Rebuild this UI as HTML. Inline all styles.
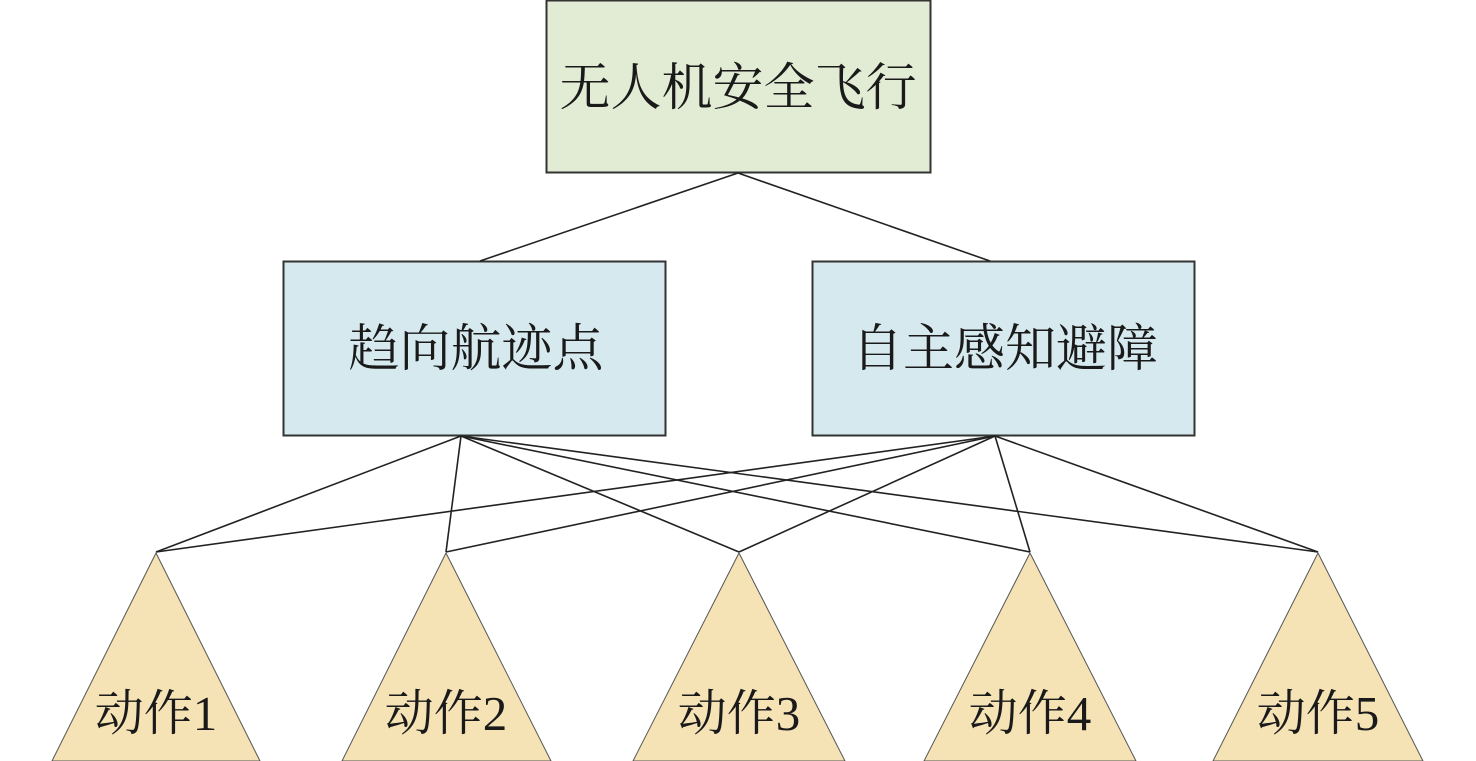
<!DOCTYPE html>
<html><head><meta charset="utf-8"><style>
body{margin:0;background:#fff;}
svg{display:block;}
text{font-family:"Liberation Serif","Noto Serif CJK SC",serif;fill:#1a1a1a;}
</style></head><body>
<svg width="1476" height="761" viewBox="0 0 1476 761" xmlns="http://www.w3.org/2000/svg">
<rect x="546.5" y="0.5" width="384" height="172" fill="#e2ebd3" stroke="#333" stroke-width="2"/>
<rect x="283.5" y="261.5" width="382" height="174" fill="#d5e9ee" stroke="#333" stroke-width="2"/>
<rect x="812.5" y="261.5" width="382" height="174" fill="#d5e9ee" stroke="#333" stroke-width="2"/>
<g stroke="#222" stroke-width="1.6" fill="none">
<line x1="738" y1="173" x2="480" y2="261"/>
<line x1="738" y1="173" x2="990" y2="261"/>
<line x1="461" y1="436" x2="156" y2="552"/>
<line x1="461" y1="436" x2="446" y2="552"/>
<line x1="461" y1="436" x2="739" y2="552"/>
<line x1="461" y1="436" x2="1030" y2="552"/>
<line x1="461" y1="436" x2="1318" y2="552"/>
<line x1="995" y1="436" x2="156" y2="552"/>
<line x1="995" y1="436" x2="446" y2="552"/>
<line x1="995" y1="436" x2="739" y2="552"/>
<line x1="995" y1="436" x2="1030" y2="552"/>
<line x1="995" y1="436" x2="1318" y2="552"/>
</g>
<g fill="#f5e3b6" stroke="#555" stroke-width="1">
<polygon points="156,553 52,761 260,761"/>
<polygon points="446,553 342,761 551,761"/>
<polygon points="739,553 633,761 845,761"/>
<polygon points="1030,553 924,761 1136,761"/>
<polygon points="1318,553 1213,761 1423,761"/>
</g>
<g font-size="51" text-anchor="middle">
<text x="738" y="105">无人机安全飞行</text>
<text x="476" y="366">趋向航迹点</text>
<text x="1005" y="366">自主感知避障</text>
</g>
<g font-size="49" text-anchor="middle">
<text x="156" y="730">动作1</text>
<text x="446" y="730">动作2</text>
<text x="739" y="730">动作3</text>
<text x="1030" y="730">动作4</text>
<text x="1318" y="730">动作5</text>
</g>
</svg>
</body></html>
